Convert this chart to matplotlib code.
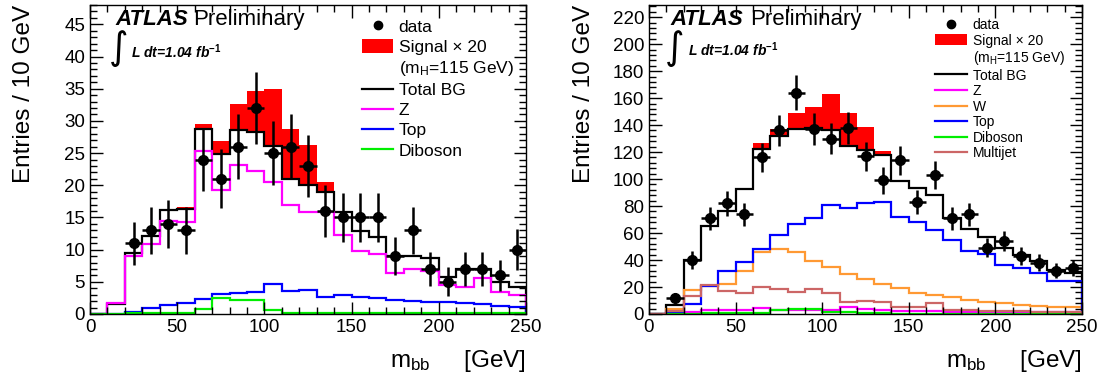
import matplotlib
matplotlib.use('Agg')
import numpy as np
import matplotlib.pyplot as plt
from matplotlib.lines import Line2D
from matplotlib.patches import Patch
from matplotlib.ticker import MultipleLocator

plt.rcParams.update({
    'font.family': ['Liberation Sans', 'DejaVu Sans'],
    'mathtext.fontset': 'custom',
    'mathtext.rm': 'Liberation Sans',
    'mathtext.it': 'Liberation Sans:italic',
    'mathtext.bf': 'Liberation Sans:bold',
})

# ---------------- data ----------------
bin_edges = np.arange(0, 251, 10)

# left panel
left_total = [0, 1.6, 9.5, 12.1, 16.1, 16.3, 28.7, 24.9, 28.6, 28.2, 26.1, 21.0, 20.1, 18.9,
              15.8, 12.9, 11.9, 9.0, 9.0, 8.65, 5.7, 6.95, 6.95, 4.9, 4.2]
left_signal = [0, 0, 0.2, 0.15, 0.15, 0.35, 0.8, 1.9, 4.0, 6.5, 8.8, 7.7, 6.2, 1.6,
               0.2, 0.2, 0.15, 0.1, 0.1, 0.15, 0.05, 0.05, 0.05, 0.05, 0.05]
left_z = [0, 1.65, 9.0, 10.8, 14.4, 14.3, 25.3, 19.2, 23.1, 22.2, 20.5, 17.0, 15.9, 15.9,
          12.3, 9.8, 9.3, 6.4, 6.95, 6.7, 4.5, 4.2, 5.6, 3.4, 3.0]
left_top = [0, 0, 0.25, 1.0, 1.35, 1.65, 2.3, 3.1, 3.2, 3.45, 4.65, 3.65, 3.75, 2.7,
            2.95, 2.6, 2.5, 2.2, 2.0, 1.9, 1.8, 1.7, 1.5, 1.3, 1.1]
left_diboson = [0, 0, 0.1, 0.1, 0.1, 0.1, 0.8, 2.5, 2.25, 2.1, 0.6, 0.15, 0.15, 0.15,
                0.15, 0.15, 0.15, 0.1, 0.1, 0.1, 0.1, 0.1, 0.1, 0.1, 0.1]
left_data = [np.nan, np.nan, 11, 13, 14, 13, 24, 21, 26, 32, 25, 26, 23, 16,
             15, 15, 15, 9, 13, 7, 5, 7, 7, 6, 10]

# right panel
right_total = [0, 7.0, 40.1, 65.5, 76.6, 92.4, 122, 132, 137.4, 137.9, 136, 124.8, 121.8, 118,
               98.3, 93.3, 88.4, 71.1, 63, 57, 48.9, 43.5, 39, 32.8, 30.4]
right_signal = [0, 0, 0, 0, 0.3, 0.5, 4.4, 4.8, 11.5, 15.4, 27, 24, 17, 2.9,
                1.0, 0.7, 0.3, 0.3, 0.2, 0.2, 0.2, 0.2, 0.2, 0.2, 0.2]
right_z = [0, 0.5, 1.2, 3.0, 3.0, 3.0, 4.7, 2.7, 3.0, 2.7, 3.0, 5.2, 3.5, 3.2,
           2.5, 2.5, 2.0, 1.8, 1.7, 1.6, 1.5, 1.5, 1.4, 1.3, 1.2]
right_w = [0, 4.0, 17.6, 20.8, 22.2, 32, 46, 48.5, 45.8, 39.3, 34.7, 30, 25.8, 22.5,
           19, 15.8, 14.1, 12.3, 10.4, 9.1, 7.9, 6.7, 6.2, 5.4, 4.9]
right_top = [0, 0.7, 7.4, 20.5, 32.2, 38.5, 48.4, 58.5, 67, 71, 80.5, 78.8, 82.5, 83.2,
             71.9, 67.9, 62.5, 54.6, 46.9, 44.7, 36, 34, 30.5, 24.3, 24.3]
right_diboson = [0, 0.2, 0.3, 0.4, 0.5, 0.5, 0.5, 2.7, 4.0, 4.0, 1.5, 1.5, 0.5, 0.4,
                 0.3, 0.3, 0.3, 0.2, 0.2, 0.2, 0.2, 0.2, 0.1, 0.1, 0.1]
right_multijet = [0, 2.5, 13.6, 21.5, 17.3, 15.3, 19.8, 18.5, 16.5, 18.5, 15.3, 9.1, 9.6, 9.1,
                  4.9, 4.9, 8.4, 3.0, 3.0, 2.2, 2.0, 2.0, 1.8, 1.8, 1.5]
right_data = [np.nan, 12, 40, 71, 82, 74, 116, 136, 164, 137, 130, 138, 117, 99,
              114, 83, 103, 71, 74, 49, 54, 43, 38, 32, 34]

C_Z = '#ff00ff'
C_W = '#ff9933'
C_TOP = '#0000ff'
C_DB = '#00ee00'
C_MJ = '#cc6666'

W, H = 1107, 382
fig = plt.figure(figsize=(W / 100, H / 100), dpi=100)
axL = fig.add_axes([90 / W, 68 / H, 436 / W, 309 / H])
axR = fig.add_axes([649 / W, 68 / H, 433 / W, 309 / H])

LW = 1.6
TICKFS = 13.5
TITLEFS = 17.5


def style(ax, ymax, ymaj, ymin):
    ax.set_xlim(0, 250)
    ax.set_ylim(0, ymax)
    ax.xaxis.set_major_locator(MultipleLocator(50))
    ax.xaxis.set_minor_locator(MultipleLocator(10))
    ax.yaxis.set_major_locator(MultipleLocator(ymaj))
    ax.yaxis.set_minor_locator(MultipleLocator(ymin))
    ax.tick_params(which='both', direction='in', top=True, right=True,
                   labelsize=TICKFS, width=1, colors='black')
    ax.tick_params(which='major', length=9)
    ax.tick_params(which='minor', length=5)
    for s in ax.spines.values():
        s.set_linewidth(1)
    ax.set_ylabel('Entries / 10 GeV', fontsize=TITLEFS, loc='top')
    ax.set_xlabel(r'm$_{\mathrm{bb}}$     [GeV]', fontsize=TITLEFS, loc='right')
    ax.yaxis.set_label_coords(-0.125, 1.0)
    ax.xaxis.set_label_coords(1.0, -0.11)


def draw_panel(ax, total, signal, comps, data):
    total = np.asarray(total, float)
    signal = np.asarray(signal, float)
    ax.stairs(total + signal, bin_edges, baseline=total, fill=True, color='#ff0000', lw=0)
    ax.stairs(total, bin_edges, color='black', lw=LW)
    for vals, c in comps:
        ax.stairs(vals, bin_edges, color=c, lw=LW)
    d = np.asarray(data, float)
    centers = 0.5 * (bin_edges[:-1] + bin_edges[1:])
    m = ~np.isnan(d)
    ax.errorbar(centers[m], d[m], yerr=np.sqrt(d[m]), xerr=5, fmt='o', color='black',
                ms=7, elinewidth=1.8, capsize=0, zorder=5)


def atlas_text(ax, x0, x1, ylab, xint, xl):
    ax.text(x0, 0.935, 'ATLAS', transform=ax.transAxes, fontsize=16, fontweight='bold',
            style='italic', va='baseline')
    ax.text(x1, 0.935, 'Preliminary', transform=ax.transAxes, fontsize=16, va='baseline')
    ax.text(xint, 0.826, '\u222b', transform=ax.transAxes, fontsize=27, va='baseline',
            family='DejaVu Sans')
    ax.text(xl, ylab, r'L dt=1.04 fb$^{\mathbf{-1}}$', transform=ax.transAxes, fontsize=10,
            fontweight='bold', style='italic', va='baseline')


draw_panel(axL, left_total, left_signal,
           [(left_z, C_Z), (left_top, C_TOP), (left_diboson, C_DB)], left_data)
style(axL, 48, 5, 1)
atlas_text(axL, 0.058, 0.236, 0.83, 0.044, 0.093)

draw_panel(axR, right_total, right_signal,
           [(right_z, C_Z), (right_w, C_W), (right_top, C_TOP), (right_diboson, C_DB),
            (right_multijet, C_MJ)], right_data)
style(axR, 229, 20, 4)
atlas_text(axR, 0.05, 0.233, 0.835, 0.036, 0.09)


def legend(ax, entries, fs, x, y, hl, tp, ls, hh):
    handles, labels = [], []
    for lab, kind, c in entries:
        if kind == 'data':
            h = Line2D([], [], marker='o', color='black', ls='none', ms=6)
        elif kind == 'sig':
            h = Patch(facecolor='#ff0000', edgecolor='none')
        elif kind == 'blank':
            h = Patch(facecolor='none', edgecolor='none')
        else:
            h = Line2D([], [], color=c, lw=1.6)
        handles.append(h)
        labels.append(lab)
    ax.legend(handles, labels, loc='upper left', bbox_to_anchor=(x, y), frameon=False,
              fontsize=fs, handlelength=hl, handletextpad=tp, labelspacing=ls,
              borderpad=0, borderaxespad=0, handleheight=hh)


legend(axL, [('data', 'data', None), ('Signal × 20', 'sig', None),
             (r'(m$_{\mathrm{H}}$=115 GeV)', 'blank', None),
             ('Total BG', 'line', 'black'), ('Z', 'line', C_Z), ('Top', 'line', C_TOP),
             ('Diboson', 'line', C_DB)],
       12.5, 0.624, 0.955, 1.8, 0.3, 0.24, 0.85)

legend(axR, [('data', 'data', None), ('Signal × 20', 'sig', None),
             (r'(m$_{\mathrm{H}}$=115 GeV)', 'blank', None),
             ('Total BG', 'line', 'black'), ('Z', 'line', C_Z), ('W', 'line', C_W),
             ('Top', 'line', C_TOP), ('Diboson', 'line', C_DB), ('Multijet', 'line', C_MJ)],
       10, 0.66, 0.958, 2.3, 0.43, 0.11, 0.8)

fig.savefig('out.png', dpi=100)
